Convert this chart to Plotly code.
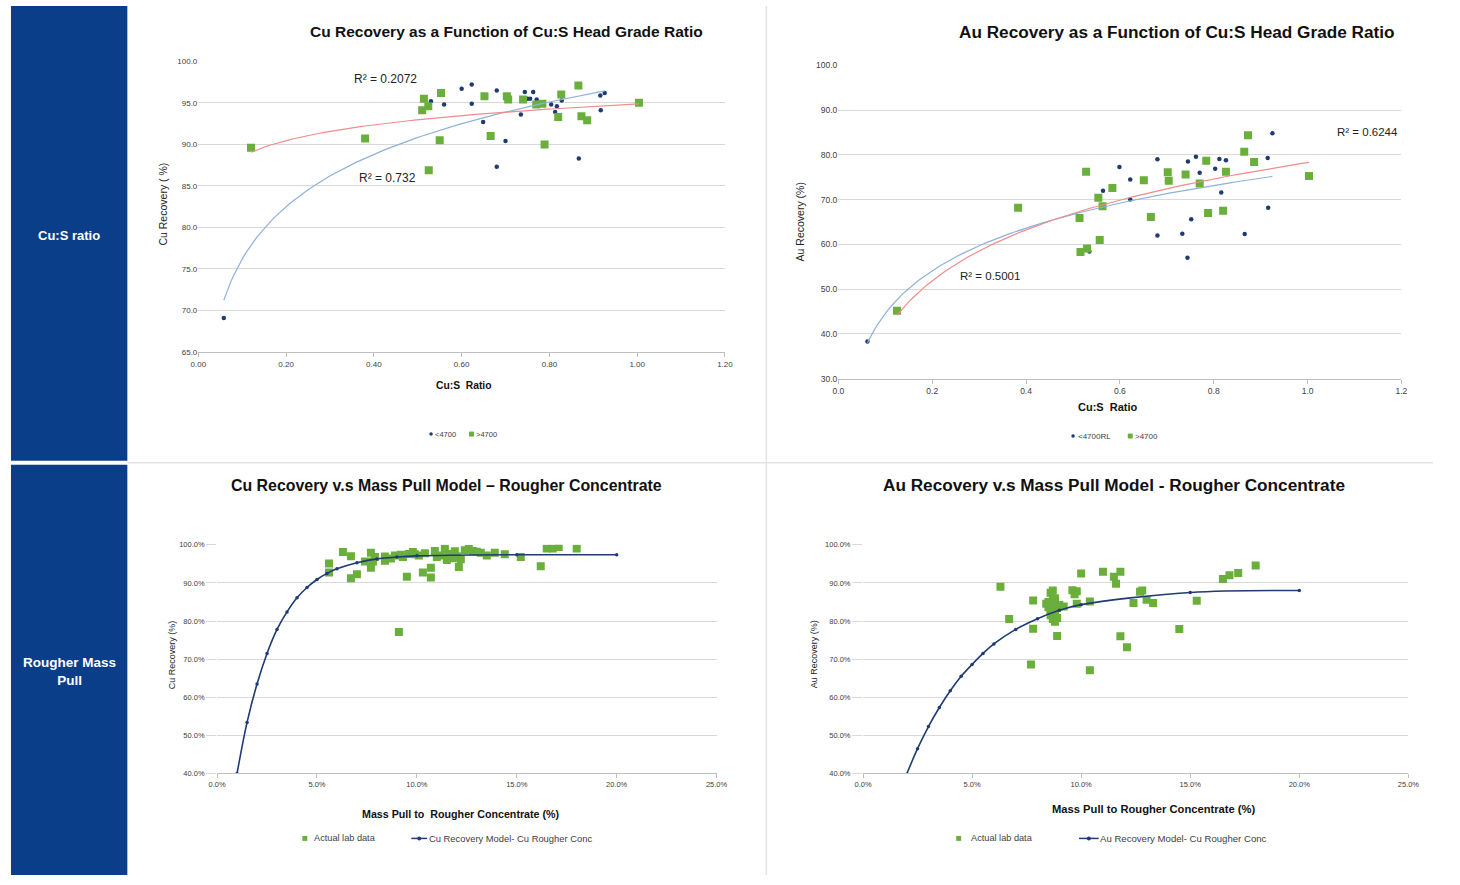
import numpy as np
import plotly.graph_objects as go

# ---------------- data ----------------
# Top-left: Cu recovery vs Cu:S ratio
tl_lo_x = [0.058, 0.53, 0.56, 0.60, 0.623, 0.623, 0.649, 0.68, 0.68, 0.70, 0.735, 0.744,
           0.75, 0.756, 0.763, 0.771, 0.804, 0.817, 0.813, 0.828, 0.867, 0.916, 0.926, 0.917]
tl_lo_y = [69.1, 95.2, 94.8, 96.7, 97.2, 94.9, 92.7, 96.5, 87.3, 90.4, 93.6, 96.3,
           95.5, 95.5, 96.3, 95.4, 94.8, 94.6, 93.9, 95.3, 88.3, 95.9, 96.2, 94.1]
tl_hi_x = [0.12, 0.38, 0.514, 0.51, 0.524, 0.553, 0.55, 0.525, 0.652, 0.666, 0.703, 0.706,
           0.74, 0.77, 0.784, 0.789, 0.82, 0.827, 0.866, 0.873, 0.886, 1.004]
tl_hi_y = [89.6, 90.7, 95.5, 94.1, 94.6, 96.2, 90.5, 86.9, 95.8, 91.0, 95.8, 95.4,
           95.4, 94.8, 94.9, 90.0, 93.3, 96.0, 97.1, 93.4, 92.9, 95.0]

# Top-right: Au recovery vs Cu:S ratio
tr_lo_x = [0.062, 0.535, 0.564, 0.599, 0.622, 0.622, 0.68, 0.68, 0.733, 0.745, 0.762,
           0.77, 0.752, 0.744, 0.803, 0.812, 0.826, 0.816, 0.866, 0.915, 0.925, 0.916]
tr_lo_y = [38.3, 58.4, 72.0, 77.3, 74.5, 70.0, 79.0, 62.0, 62.4, 78.5, 79.6,
           76.0, 65.6, 57.0, 76.9, 79.1, 78.8, 71.6, 62.3, 79.3, 84.8, 68.2]
tr_hi_x = [0.125, 0.383, 0.528, 0.514, 0.516, 0.53, 0.554, 0.563, 0.557, 0.584, 0.651, 0.666,
           0.702, 0.704, 0.74, 0.77, 0.784, 0.788, 0.82, 0.826, 0.865, 0.873, 0.886, 1.003]
tr_hi_y = [45.2, 68.2, 76.2, 65.9, 58.3, 59.1, 70.4, 68.5, 61.0, 72.6, 74.3, 66.1,
           76.1, 74.2, 75.6, 73.6, 78.7, 67.0, 67.5, 76.2, 80.7, 84.4, 78.4, 75.3]

# Bottom-left: Cu recovery vs mass pull
bl_lab_x = [5.6, 5.6, 6.3, 6.7, 6.7, 7.0, 7.4, 7.7, 7.7, 7.8, 7.9, 8.4, 8.4, 8.7, 8.9, 9.1,
            9.2, 9.3, 9.5, 9.6, 9.8, 9.9, 10.1, 10.3, 10.4, 10.7, 10.7, 10.9, 11.0, 11.2,
            11.4, 11.5, 11.6, 11.8, 11.9, 12.0, 12.1, 12.2, 12.4, 12.6, 12.8, 13.0, 13.2,
            13.5, 13.9, 14.4, 15.2, 16.2, 16.5, 16.8, 17.1, 18.0]
bl_lab_y = [95.1, 92.7, 98.1, 97.0, 91.2, 92.3, 95.6, 97.9, 94.0, 95.6, 96.8, 95.8, 96.9,
            96.4, 97.2, 77.1, 97.4, 96.8, 91.6, 97.6, 98.1, 97.5, 97.2, 92.7, 97.8, 94.0,
            91.4, 98.4, 96.8, 97.2, 99.0, 96.0, 97.6, 96.5, 98.3, 97.0, 94.2, 96.2, 98.6,
            98.9, 98.4, 98.2, 97.9, 97.2, 97.9, 97.5, 96.8, 94.4, 99.0, 99.0, 99.4, 99.0]
bl_model_x = [1.0, 1.5, 2.0, 2.5, 3.0, 3.5, 4.0, 4.5, 5.0, 5.5, 6.0, 7.0, 8.0, 9.0, 10.0, 15.0, 20.0]
bl_model_y = [40.0, 53.4, 63.5, 71.5, 77.8, 82.4, 86.1, 88.8, 90.9, 92.5, 93.7, 95.3, 96.3,
              96.8, 97.1, 97.4, 97.4]

# Bottom-right: Au recovery vs mass pull
br_lab_x = [6.3, 6.7, 7.8, 7.8, 7.7, 8.7, 8.6, 8.5, 8.6, 8.7, 8.8, 8.6, 8.7, 8.8, 8.9, 8.6,
            8.7, 8.8, 8.9, 9.0, 8.5, 8.8, 8.4, 8.9, 9.2, 9.6, 9.7, 9.8, 10.0, 9.8, 10.4,
            10.4, 11.0, 11.5, 11.6, 11.8, 11.8, 12.1, 12.4, 12.7, 12.8, 13.0, 13.3, 14.5,
            15.3, 16.5, 16.8, 17.2, 18.0]
br_lab_y = [89.0, 80.5, 85.4, 78.0, 68.6, 88.0, 87.4, 85.0, 84.0, 83.0, 82.0, 81.5, 80.5,
            79.8, 80.8, 82.8, 85.5, 84.8, 83.5, 84.2, 83.6, 86.0, 84.5, 76.1, 83.8, 88.1,
            87.0, 87.8, 92.5, 84.5, 67.1, 85.1, 92.9, 91.6, 89.8, 92.9, 76.0, 73.1, 84.7,
            87.7, 88.0, 85.6, 84.7, 77.9, 85.3, 91.0, 92.0, 92.6, 94.6]
br_model_x = [2.0, 2.5, 3.0, 3.5, 4.0, 4.5, 5.0, 5.5, 6.0, 7.0, 8.0, 9.0, 10.0, 15.0, 20.0]
br_model_y = [39.8, 46.5, 52.3, 57.3, 61.7, 65.5, 68.6, 71.5, 74.0, 77.8, 80.6, 82.8, 84.3,
              87.5, 88.0]

r2_labels = ["R² = 0.2072", "R² = 0.732", "R² = 0.6244", "R² = 0.5001"]
legend_names = ["<4700", ">4700", "<4700RL", ">4700", "Actual lab data",
                "Cu Recovery Model- Cu Rougher Conc", "Actual lab data",
                "Au Recovery Model- Cu Rougher Conc"]

# ---------------- styles ----------------
FONT = "Liberation Sans, Arial, sans-serif"
NAVY = "#1F3B73"
GREEN = "#6AAE3C"
TREND_BLUE = "#8FB2DA"
TREND_RED = "#F08C8C"
PANEL = "#0B3E89"
GRID = "#D9D9D9"
TICKC = "#404040"


def log_fit(x, y):
    x = np.asarray(x, float)
    y = np.asarray(y, float)
    a, b = np.polyfit(np.log(x), y, 1)
    xs = np.linspace(x.min(), x.max(), 120)
    return xs, a * np.log(xs) + b


# The page body keeps its default margin, so reference pixel positions are
# converted to figure pixels with these offsets.
OFF_X, OFF_Y = 8, 5
W, H = 1444, 880
fig = go.Figure()

# --- top-left
fig.add_trace(go.Scatter(x=tl_lo_x, y=tl_lo_y, mode="markers", name=legend_names[0],
                         marker=dict(color=NAVY, size=4.5, symbol="circle"),
                         xaxis="x", yaxis="y"))
fig.add_trace(go.Scatter(x=tl_hi_x, y=tl_hi_y, mode="markers", name=legend_names[1],
                         marker=dict(color=GREEN, size=8, symbol="square"),
                         xaxis="x", yaxis="y"))
xs, ys = log_fit(tl_lo_x, tl_lo_y)
fig.add_trace(go.Scatter(x=xs, y=ys, mode="lines", line=dict(color=TREND_BLUE, width=1.2),
                         xaxis="x", yaxis="y", hoverinfo="skip"))
xs, ys = log_fit(tl_hi_x, tl_hi_y)
fig.add_trace(go.Scatter(x=xs, y=ys, mode="lines", line=dict(color=TREND_RED, width=1.2),
                         xaxis="x", yaxis="y", hoverinfo="skip"))

# --- top-right
fig.add_trace(go.Scatter(x=tr_lo_x, y=tr_lo_y, mode="markers", name=legend_names[2],
                         marker=dict(color=NAVY, size=4.5, symbol="circle"),
                         xaxis="x2", yaxis="y2"))
fig.add_trace(go.Scatter(x=tr_hi_x, y=tr_hi_y, mode="markers", name=legend_names[3],
                         marker=dict(color=GREEN, size=8, symbol="square"),
                         xaxis="x2", yaxis="y2"))
xs, ys = log_fit(tr_lo_x, tr_lo_y)
fig.add_trace(go.Scatter(x=xs, y=ys, mode="lines", line=dict(color=TREND_BLUE, width=1.2),
                         xaxis="x2", yaxis="y2", hoverinfo="skip"))
xs, ys = log_fit(tr_hi_x, tr_hi_y)
fig.add_trace(go.Scatter(x=xs, y=ys, mode="lines", line=dict(color=TREND_RED, width=1.2),
                         xaxis="x2", yaxis="y2", hoverinfo="skip"))

# --- bottom-left
fig.add_trace(go.Scatter(x=bl_lab_x, y=bl_lab_y, mode="markers", name=legend_names[4],
                         marker=dict(color=GREEN, size=8, symbol="square"),
                         xaxis="x3", yaxis="y3"))
fig.add_trace(go.Scatter(x=bl_model_x, y=bl_model_y, mode="lines+markers",
                         name=legend_names[5],
                         line=dict(color=NAVY, width=1.6, shape="spline"),
                         marker=dict(color=NAVY, size=3.5),
                         xaxis="x3", yaxis="y3"))

# --- bottom-right
fig.add_trace(go.Scatter(x=br_lab_x, y=br_lab_y, mode="markers", name=legend_names[6],
                         marker=dict(color=GREEN, size=8, symbol="square"),
                         xaxis="x4", yaxis="y4"))
fig.add_trace(go.Scatter(x=br_model_x, y=br_model_y, mode="lines+markers",
                         name=legend_names[7],
                         line=dict(color=NAVY, width=1.6, shape="spline"),
                         marker=dict(color=NAVY, size=3.5),
                         xaxis="x4", yaxis="y4"))


def xax(domain, rng, dtick, fmt, anchor, suffix="", ticklen=4, fsize=8):
    return dict(domain=domain, range=rng, dtick=dtick, tickformat=fmt, ticksuffix=suffix,
                anchor=anchor, showgrid=False, zeroline=False, showline=True,
                linecolor="#BFBFBF", linewidth=1, ticks="outside", ticklen=ticklen,
                tickcolor="#BFBFBF", tickfont=dict(family=FONT, size=fsize, color=TICKC),
                fixedrange=True)


def yax(domain, rng, dtick, fmt, anchor, suffix="", ticklen=0, fsize=8):
    return dict(domain=domain, range=rng, dtick=dtick, tickformat=fmt, ticksuffix=suffix,
                anchor=anchor, showgrid=True, gridcolor=GRID, gridwidth=1, zeroline=False,
                showline=False, ticks="outside" if ticklen else "", ticklen=ticklen,
                tickcolor=GRID, tickfont=dict(family=FONT, size=fsize, color=TICKC),
                fixedrange=True)


def px(v):
    return min(max((v - OFF_X) / W, 0), 1)


def py(v):
    return min(max(1 - (v - OFF_Y) / H, 0), 1)


fig.update_layout(
    width=W, height=H, autosize=False, showlegend=False,
    margin=dict(l=0, r=0, t=0, b=0),
    paper_bgcolor="white", plot_bgcolor="white",
    font=dict(family=FONT),
    xaxis=xax([px(200), px(734)], [0, 1.2], 0.2, ".2f", "y"),
    yaxis=yax([py(356), py(62)], [65, 100], 5, ".1f", "x"),
    xaxis2=xax([px(849), px(1420)], [0, 1.2], 0.2, ".1f", "y2", fsize=8.5),
    yaxis2=yax([py(383), py(66)], [30, 100], 10, ".1f", "x2", fsize=8.5),
    xaxis3=xax([px(219), px(725.5)], [0, 25], 5, ".1f", "y3", "%", fsize=7.5),
    yaxis3=yax([py(782.3), py(551)], [40, 100], 10, ".1f", "x3", "%", 10, fsize=7.5),
    xaxis4=xax([px(874), px(1427)], [0, 25], 5, ".1f", "y4", "%", fsize=7.5),
    yaxis4=yax([py(782.3), py(551)], [40, 100], 10, ".1f", "x4", "%", 10, fsize=7.5),
)

# background panels and separators
shapes = [
    dict(type="rect", xref="paper", yref="paper", x0=px(10), x1=px(128), y0=py(466), y1=py(6),
         fillcolor=PANEL, line=dict(width=0), layer="below"),
    dict(type="rect", xref="paper", yref="paper", x0=px(10), x1=px(128), y0=py(885), y1=py(470),
         fillcolor=PANEL, line=dict(width=0), layer="below"),
    dict(type="line", xref="paper", yref="paper", x0=px(776), x1=px(776), y0=py(885), y1=py(6),
         line=dict(color="#E3E3E3", width=1.5), layer="below"),
    dict(type="line", xref="paper", yref="paper", x0=px(128), x1=1, y0=py(468), y1=py(468),
         line=dict(color="#E3E3E3", width=1.5), layer="below"),
]

ann = []


def text(x, y, s, size, bold=False, color="#111111", angle=0, xref="paper", yref="paper",
         xanchor="center"):
    ann.append(dict(x=x, y=y, xref=xref, yref=yref, text=f"<b>{s}</b>" if bold else s,
                    showarrow=False, textangle=angle, xanchor=xanchor, yanchor="middle",
                    borderpad=0, font=dict(family=FONT, size=size, color=color)))


# manual legends (symbol shapes + real text)
def leg_square(cx, cy, color, s=6):
    shapes.append(dict(type="rect", xref="paper", yref="paper",
                       x0=px(cx - s / 2), x1=px(cx + s / 2), y0=py(cy + s / 2), y1=py(cy - s / 2),
                       fillcolor=color, line=dict(width=0)))


def leg_dot(cx, cy, color, r=1.8):
    shapes.append(dict(type="circle", xref="paper", yref="paper",
                       x0=px(cx - r), x1=px(cx + r), y0=py(cy + r), y1=py(cy - r),
                       fillcolor=color, line=dict(width=0)))


def leg_line(x0, x1, cy, color):
    shapes.append(dict(type="line", xref="paper", yref="paper", x0=px(x0), x1=px(x1),
                       y0=py(cy), y1=py(cy), line=dict(color=color, width=1.5)))
    leg_dot((x0 + x1) / 2, cy, color, 2)


leg_dot(436, 439, NAVY)
text(px(439), py(439), legend_names[0], 7.5, False, TICKC, xanchor="left")
leg_square(477, 439, GREEN, 5)
text(px(480.5), py(439), legend_names[1], 7.5, False, TICKC, xanchor="left")

leg_dot(1087, 441, NAVY)
text(px(1090.5), py(441), legend_names[2], 8, False, TICKC, xanchor="left")
leg_square(1145, 441, GREEN, 5)
text(px(1149), py(441), legend_names[3], 8, False, TICKC, xanchor="left")

leg_square(308, 848, GREEN, 5)
text(px(316), py(848), legend_names[4], 9.2, False, TICKC, xanchor="left")
leg_line(416, 432, 848, NAVY)
text(px(433), py(848), legend_names[5], 9.4, False, TICKC, xanchor="left")

leg_square(971, 848, GREEN, 5)
text(px(982), py(848), legend_names[6], 9.2, False, TICKC, xanchor="left")
leg_line(1093, 1113, 848, NAVY)
text(px(1113.5), py(848), legend_names[7], 9.6, False, TICKC, xanchor="left")

# panel labels
text(px(69), py(238), "Cu:S ratio", 13, True, "white")
text(px(69), py(679), "Rougher Mass<br>Pull", 13.5, True, "white")

# titles
text(px(512), py(32), "Cu Recovery as a Function of Cu:S Head Grade Ratio", 15.5, True)
text(px(1192), py(32), "Au Recovery as a Function of Cu:S Head Grade Ratio", 17.2, True)
text(px(452), py(491), "Cu Recovery v.s Mass Pull Model – Rougher Concentrate", 15.9, True)
text(px(1129), py(491), "Au Recovery v.s Mass Pull Model - Rougher Concentrate", 17.2, True)

# axis titles
text(px(469), py(390), "Cu:S&nbsp;&nbsp;Ratio", 10.3, True)
text(px(1122), py(412), "Cu:S&nbsp;&nbsp;Ratio", 11, True)
text(px(466), py(823), "Mass Pull to&nbsp;&nbsp;Rougher Concentrate (%)", 10.7, True)
text(px(1169), py(818), "Mass Pull to Rougher Concentrate (%)", 11.2, True)
text(px(164), py(206), "Cu Recovery ( %)", 10.5, False, "#222222", -90)
text(px(810), py(224), "Au Recovery (%)", 10.5, False, "#222222", -90)
text(px(173), py(662), "Cu Recovery (%)", 9, False, "#222222", -90)
text(px(824), py(662), "Au Recovery (%)", 9, False, "#222222", -90)

# R² labels (placed in data coordinates)
text(0.427, 97.9, r2_labels[0], 12, False, "#222222", 0, "x", "y")
text(0.431, 86.0, r2_labels[1], 12, False, "#222222", 0, "x", "y")
text(1.127, 85.2, r2_labels[2], 11.5, False, "#222222", 0, "x2", "y2")
text(0.324, 53.0, r2_labels[3], 11.5, False, "#222222", 0, "x2", "y2")

fig.update_layout(annotations=ann, shapes=shapes)

fig.write_html("out.html")
